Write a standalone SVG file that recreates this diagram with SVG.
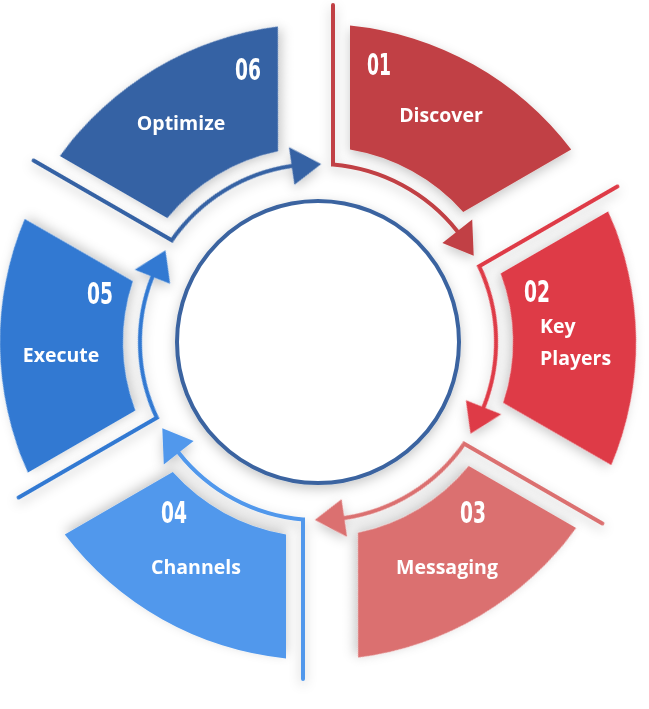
<svg xmlns="http://www.w3.org/2000/svg" width="649" height="709" viewBox="0 0 649 709">
<defs>
<filter id="sh" x="-30%" y="-30%" width="160%" height="160%"><feDropShadow dx="0" dy="4" stdDeviation="6" flood-color="#000" flood-opacity="0.22"/></filter>
<path id="sec" d="M32,-316.4 A318,318 0 0 1 253.2,-192.4 L145.2,-130.1 A195,195 0 0 0 32,-192.4 Z"/>
<path id="con" d="M15,-337 L15,-177.4 A178,178 0 0 1 139.3,-110.8" fill="none" stroke-width="4" stroke-linecap="round"/>
<polygon id="arr" points="124.4,-99 154.2,-122.6 155.7,-86.3"/>
</defs>
<style>
.num{font-family:"DejaVu Sans Condensed","DejaVu Sans",sans-serif;font-weight:bold;font-size:31px;fill:#fff;text-anchor:middle}
.lbl{font-family:"Open Sans",sans-serif;font-weight:700;font-size:19.5px;fill:#fff;text-anchor:middle}
</style>
<rect width="649" height="709" fill="#fff"/>
<g id="connectors" filter="url(#sh)">
<g transform="translate(318,342) rotate(0)"><use href="#con" stroke="#C14144"/><use href="#arr" fill="#C14144"/></g>
<g transform="translate(318,342) rotate(60)"><use href="#con" stroke="#DE3A46"/><use href="#arr" fill="#DE3A46"/></g>
<g transform="translate(318,342) rotate(120)"><use href="#con" stroke="#DB7070"/><use href="#arr" fill="#DB7070"/></g>
<g transform="translate(318,342) rotate(180)"><use href="#con" stroke="#5198EC"/><use href="#arr" fill="#5198EC"/></g>
<g transform="translate(318,342) rotate(240)"><use href="#con" stroke="#3179D2"/><use href="#arr" fill="#3179D2"/></g>
<g transform="translate(318,342) rotate(300)"><use href="#con" stroke="#3662A4"/><use href="#arr" fill="#3662A4"/></g>
</g>
<g id="center"><circle cx="318" cy="342" r="141" fill="#fff" stroke="#3A64A0" stroke-width="4" filter="url(#sh)"/></g>
<g id="n01"><use href="#sec" transform="translate(318,342) rotate(0)" fill="#C14144" filter="url(#sh)"/>
<text class="num" x="379" y="75" textLength="24" lengthAdjust="spacingAndGlyphs">01</text><text class="lbl" x="441" y="122">Discover</text></g>
<g id="n02"><use href="#sec" transform="translate(318,342) rotate(60)" fill="#DE3A46" filter="url(#sh)"/>
<text class="num" x="537" y="302" textLength="26" lengthAdjust="spacingAndGlyphs">02</text><text class="lbl" x="540" y="333" style="text-anchor:start">Key</text><text class="lbl" x="540" y="365" style="text-anchor:start">Players</text></g>
<g id="n03"><use href="#sec" transform="translate(318,342) rotate(120)" fill="#DB7070" filter="url(#sh)"/>
<text class="num" x="473" y="523" textLength="26" lengthAdjust="spacingAndGlyphs">03</text><text class="lbl" x="447" y="574">Messaging</text></g>
<g id="n04"><use href="#sec" transform="translate(318,342) rotate(180)" fill="#5198EC" filter="url(#sh)"/>
<text class="num" x="174" y="523" textLength="26" lengthAdjust="spacingAndGlyphs">04</text><text class="lbl" x="196" y="574">Channels</text></g>
<g id="n05"><use href="#sec" transform="translate(318,342) rotate(240)" fill="#3179D2" filter="url(#sh)"/>
<text class="num" x="100" y="304" textLength="26" lengthAdjust="spacingAndGlyphs">05</text><text class="lbl" x="61" y="362">Execute</text></g>
<g id="n06"><use href="#sec" transform="translate(318,342) rotate(300)" fill="#3662A4" filter="url(#sh)"/>
<text class="num" x="248" y="80" textLength="26" lengthAdjust="spacingAndGlyphs">06</text><text class="lbl" x="181" y="130">Optimize</text></g>
</svg>
